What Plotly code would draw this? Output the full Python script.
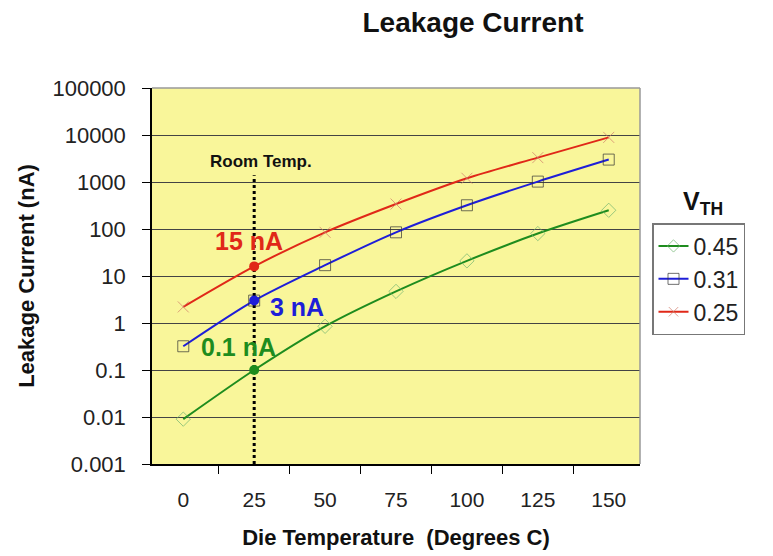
import plotly.graph_objects as go

temps = ["0", "25", "50", "75", "100", "125", "150"]
vth_045 = [0.009, 0.1, 0.85, 4.7, 21, 80, 250]
vth_031 = [0.32, 3, 17, 85, 320, 1020, 3000]
vth_025 = [2.2, 16, 85, 340, 1200, 3300, 8900]
room_temp = "25"
room_vals = [16, 3, 0.1]
room_colors = ["#E02818", "#1E1ED8", "#1E8C1E"]
room_labels = ["15 nA", "3 nA", "0.1 nA"]

FONT = "Liberation Sans, Arial, sans-serif"

fig = go.Figure()

def series(name, y, line_color, mcolor, symbol, skip_room):
    symbols = [symbol] * len(y)
    sizes = [11] * len(y)
    if skip_room:
        sizes[temps.index(room_temp)] = 0
    fig.add_trace(go.Scatter(
        x=temps, y=y, name=name, mode="lines+markers",
        line=dict(color=line_color, width=2, shape="spline", smoothing=0.8),
        marker=dict(symbol=symbols, size=sizes, color=mcolor, line=dict(width=1)),
    ))

series("0.45", vth_045, "#1E8C1E", "#6FB36F", "diamond-open", True)
series("0.31", vth_031, "#1E1ED8", "#333333", "square-open", False)
series("0.25", vth_025, "#E02818", "#D07A6A", "x-thin-open", True)

# room temperature dotted line
fig.add_trace(go.Scatter(
    x=[room_temp, room_temp], y=[0.001, 1400], mode="lines",
    line=dict(color="black", width=3, dash="dot"), showlegend=False, hoverinfo="skip"))

fig.add_trace(go.Scatter(
    x=[room_temp] * 3, y=room_vals, mode="markers",
    marker=dict(symbol="circle", size=10, color=room_colors),
    showlegend=False, hoverinfo="skip"))

W, H = 773, 556
OFF = 8  # page body margin
L, R, T, B = 152, 640, 88, 464  # target plot area in page pixels

def px(x):
    return (x - L) / (R - L)

def py(y):
    return (B - y) / (B - T)

annos = [
    dict(text="Room Temp.", x=px(261), y=py(161), font=dict(size=17, color="#111")),
    dict(text=room_labels[0], x=px(249), y=py(241), font=dict(size=25, color=room_colors[0])),
    dict(text=room_labels[1], x=px(297), y=py(307), font=dict(size=25, color=room_colors[1])),
    dict(text=room_labels[2], x=px(238), y=py(347), font=dict(size=25, color=room_colors[2])),
]
for a in annos:
    fig.add_annotation(xref="paper", yref="paper", x=a["x"], y=a["y"], text="<b>%s</b>" % a["text"],
                       showarrow=False, font=dict(family=FONT, **a["font"]), xanchor="center", yanchor="middle")

fig.add_annotation(xref="paper", yref="paper", x=px(703), y=py(203), text="<b>V<sub>TH</sub></b>",
                   showarrow=False, font=dict(family=FONT, size=25, color="#111"), xanchor="center", yanchor="middle")

# top and right gray border
fig.add_shape(type="line", xref="paper", yref="paper", x0=0, x1=1, y0=1, y1=1, line=dict(color="#999", width=1.5))
fig.add_shape(type="line", xref="paper", yref="paper", x0=1, x1=1, y0=0, y1=1, line=dict(color="#999", width=1.5))

fig.update_layout(
    width=W, height=H,
    margin=dict(l=L - OFF, r=W - (R - OFF), t=T - OFF, b=H - (B - OFF)),
    paper_bgcolor="white",
    plot_bgcolor="#F9F69A",
    font=dict(family=FONT, color="#222"),
    title=dict(text="<b>Leakage Current</b>", x=(473 - OFF) / W, xanchor="center",
               y=1 - (22 - OFF) / H, yanchor="middle",
               font=dict(size=28, color="#111")),
    showlegend=True,
    legend=dict(x=px(652), y=py(223), xanchor="left", yanchor="top",
                bgcolor="white", bordercolor="#777", borderwidth=1.5,
                font=dict(size=23, color="#222"), tracegroupgap=0),
    xaxis=dict(type="category", categoryorder="array", categoryarray=temps,
               tickson="boundaries", ticks="outside", ticklen=8, tickcolor="black",
               showline=True, linecolor="black", linewidth=1.5, showgrid=False,
               tickfont=dict(size=21, color="#222"), ticklabelstandoff=16,
               title=dict(text="<b>Die Temperature  (Degrees C)</b>", font=dict(size=22, color="#111"), standoff=20)),
    yaxis=dict(type="log", range=[-3, 5], tickvals=[0.001, 0.01, 0.1, 1, 10, 100, 1000, 10000, 100000],
               ticktext=["0.001", "0.01", "0.1", "1", "10", "100", "1000", "10000", "100000"],
               ticks="outside", ticklen=8, tickcolor="black",
               showline=True, linecolor="black", linewidth=1.5,
               showgrid=True, gridcolor="#444", gridwidth=1,
               tickfont=dict(size=22, color="#222"), ticklabelstandoff=12,
               title=dict(text="<b>Leakage Current (nA)</b>", font=dict(size=22, color="#111"), standoff=12)),
)

fig.write_html("out.html")
